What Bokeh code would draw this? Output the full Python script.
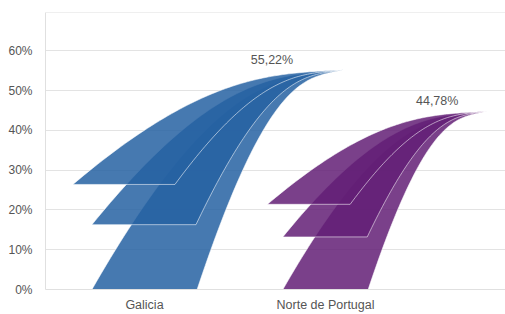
import numpy as np
from bokeh.plotting import figure
from bokeh.models import FixedTicker, Range1d, Span
from bokeh.embed import file_html
from bokeh.resources import INLINE
from bokeh.core.properties import value

# ---- data ----
categories = ["Galicia", "Norte de Portugal"]
shares = [55.22, 44.78]
share_labels = ["55,22%", "44,78%"]
colors = ["#2661a2", "#631f75"]
y_ticks = [0, 10, 20, 30, 40, 50, 60]
y_tick_labels = ["0%", "10%", "20%", "30%", "40%", "50%", "60%"]

# ---- layout ----
W, H = 505, 314
ML, MT, MB = 45, 12, 20
frame_w = W - ML
frame_h = H - MT - MB
cat_px = 181.0
x_start = -0.547
x_end = x_start + frame_w / cat_px
y_start, y_end = 0.0, 69.6
px_x = frame_w / (x_end - x_start)
px_y = frame_h / (y_end - y_start)
aspect = px_y / px_x

# feather shape template (fractions of the bar height): base y, left x, right x
layers = [(0.0, -0.235, 0.235), (0.295, -0.235, 0.23), (0.478, -0.32, 0.136)]
tip = (0.89, 1.0)

def edge(bx, by, tx, ty, n=80):
    t = np.linspace(0, 1, n)
    p1 = (bx + 0.5 * (tx - bx), ty)
    p2 = (tx - 0.25 * (tx - bx), ty + 0.04 * (by - ty))
    a, b, c, d = (1 - t) ** 3, 3 * t * (1 - t) ** 2, 3 * t ** 2 * (1 - t), t ** 3
    return a * bx + b * p1[0] + c * p2[0] + d * tx, a * by + b * p1[1] + c * p2[1] + d * ty

xs, ys, fills = [], [], []
for i, v in enumerate(shares):
    cx = float(i)
    sx = v * aspect
    tx, ty = cx + tip[0] * sx, tip[1] * v
    for (fy, fl, fr) in layers:
        by = fy * v
        lx, ly = edge(cx + fl * sx, by, tx, ty)
        rx, ry = edge(cx + fr * sx, by, tx, ty)
        xs.append(list(lx) + list(rx[::-1]))
        ys.append(list(ly) + list(ry[::-1]))
        fills.append(colors[i])

p = figure(width=W, height=H, output_backend="svg", toolbar_location=None,
           x_range=Range1d(x_start, x_end), y_range=Range1d(y_start, y_end),
           min_border_left=ML, min_border_right=0, min_border_top=MT, min_border_bottom=MB)
p.outline_line_color = None
p.background_fill_color = "white"
p.border_fill_color = "white"

p.patches(xs, ys, fill_color=fills, fill_alpha=0.85, line_color="white", line_alpha=0.55, line_width=1)

lab_x = [float(i) + 0.373 * v * aspect for i, v in enumerate(shares)]
p.text(lab_x, shares, text=share_labels, x_offset=44, y_offset=-3,
       text_align="center", text_baseline="bottom",
       text_font=value("Liberation Sans"), text_font_size="12.5px", text_color="#555555")

p.add_layout(Span(location=y_end, dimension="width", line_color="#e0e0e0", line_width=1))

p.xgrid.visible = False
p.ygrid.ticker = FixedTicker(ticks=y_ticks)
p.ygrid.grid_line_color = "#e3e3e3"
p.ygrid.grid_line_width = 1

p.yaxis.ticker = FixedTicker(ticks=y_ticks)
p.yaxis.major_label_overrides = {t: l for t, l in zip(y_ticks, y_tick_labels)}
p.yaxis.axis_line_color = "#e0e0e0"
p.yaxis.major_tick_line_color = None
p.yaxis.minor_tick_line_color = None
p.yaxis.major_label_standoff = 7
p.yaxis.major_label_text_font = "Liberation Sans"
p.yaxis.major_label_text_font_size = "12px"
p.yaxis.major_label_text_color = "#555555"

p.xaxis.ticker = FixedTicker(ticks=list(range(len(categories))))
p.xaxis.major_label_overrides = {i: c for i, c in enumerate(categories)}
p.xaxis.axis_line_color = "#e0e0e0"
p.xaxis.major_tick_line_color = None
p.xaxis.minor_tick_line_color = None
p.xaxis.major_label_standoff = 2
p.xaxis.major_label_text_font = "Liberation Sans"
p.xaxis.major_label_text_font_size = "12.5px"
p.xaxis.major_label_text_color = "#555555"

open("out.html", "w").write(file_html(p, INLINE))
